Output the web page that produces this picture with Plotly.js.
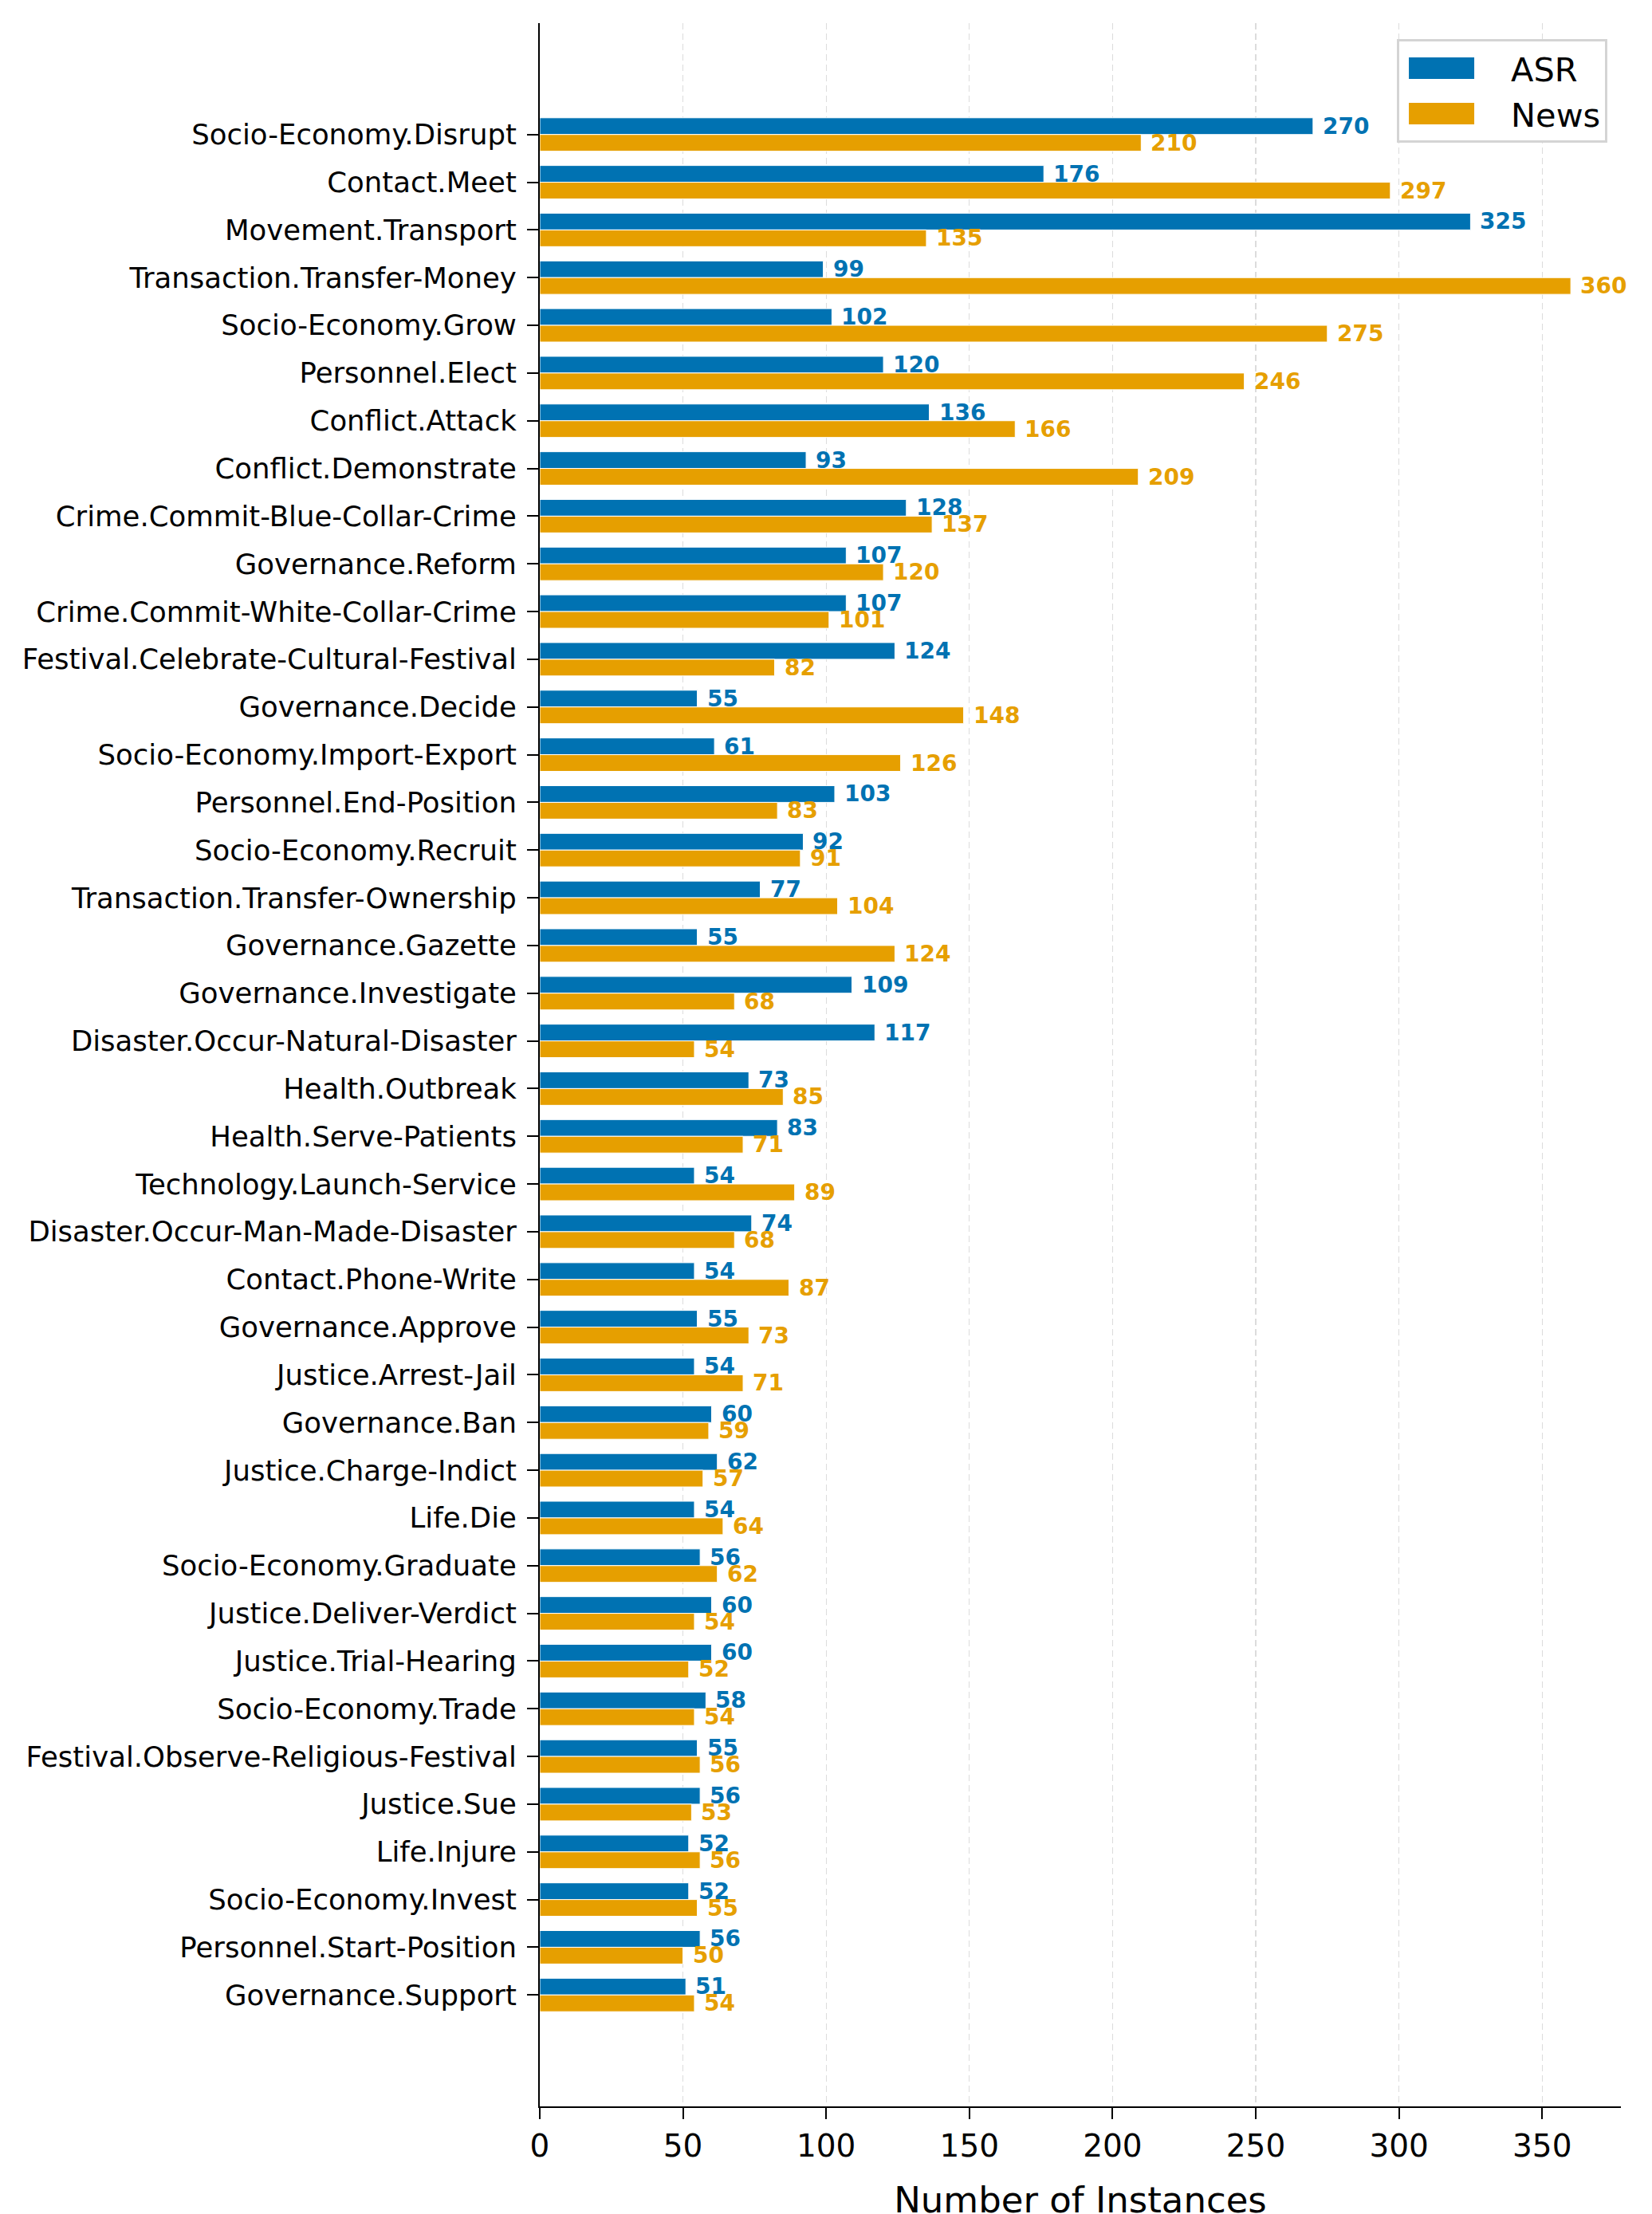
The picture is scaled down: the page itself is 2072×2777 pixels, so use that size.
<!DOCTYPE html>
<html>
<head>
<meta charset="utf-8">
<script src="https://cdn.plot.ly/plotly-3.0.1.min.js"></script>
<style>
  html, body { margin: 0; padding: 0; background: #ffffff; }
  #chart { width: 2072px; height: 2777px; }
</style>
</head>
<body>
<div id="chart"></div>
<script>
const categories = [
  "Socio-Economy.Disrupt", "Contact.Meet", "Movement.Transport", "Transaction.Transfer-Money",
  "Socio-Economy.Grow", "Personnel.Elect", "Conflict.Attack", "Conflict.Demonstrate",
  "Crime.Commit-Blue-Collar-Crime", "Governance.Reform", "Crime.Commit-White-Collar-Crime",
  "Festival.Celebrate-Cultural-Festival", "Governance.Decide", "Socio-Economy.Import-Export",
  "Personnel.End-Position", "Socio-Economy.Recruit", "Transaction.Transfer-Ownership",
  "Governance.Gazette", "Governance.Investigate", "Disaster.Occur-Natural-Disaster",
  "Health.Outbreak", "Health.Serve-Patients", "Technology.Launch-Service",
  "Disaster.Occur-Man-Made-Disaster", "Contact.Phone-Write", "Governance.Approve",
  "Justice.Arrest-Jail", "Governance.Ban", "Justice.Charge-Indict", "Life.Die",
  "Socio-Economy.Graduate", "Justice.Deliver-Verdict", "Justice.Trial-Hearing",
  "Socio-Economy.Trade", "Festival.Observe-Religious-Festival", "Justice.Sue",
  "Life.Injure", "Socio-Economy.Invest", "Personnel.Start-Position", "Governance.Support"
];
const asrCounts = [
  270, 176, 325, 99, 102, 120, 136, 93, 128, 107, 107, 124, 55, 61, 103, 92, 77, 55, 109, 117,
  73, 83, 54, 74, 54, 55, 54, 60, 62, 54, 56, 60, 60, 58, 55, 56, 52, 52, 56, 51
];
const newsCounts = [
  210, 297, 135, 360, 275, 246, 166, 209, 137, 120, 101, 82, 148, 126, 83, 91, 104, 124, 68, 54,
  85, 71, 89, 68, 87, 73, 71, 59, 57, 64, 62, 54, 52, 54, 56, 53, 56, 55, 50, 54
];
const seriesNames = ["ASR", "News"];
const seriesColors = ["#0072B2", "#E69F00"];
const xTickValues = [0, 50, 100, 150, 200, 250, 300, 350];
const xAxisTitle = "Number of Instances";

const FONT = "DejaVu Sans, Verdana, sans-serif";
const BAR_W = 0.35;
const PX_PER_CAT = 59.83;

const seriesData = [asrCounts, newsCounts];

const traces = seriesData.map((vals, k) => ({
  type: "bar",
  orientation: "h",
  name: seriesNames[k],
  legendgroup: seriesNames[k],
  x: vals,
  y: categories,
  marker: { color: seriesColors[k], line: { color: "#ffffff", width: 1 } },
  hoverinfo: "x+name"
}));

// value labels at bar ends
const annotations = [];
seriesData.forEach((vals, k) => {
  const offset = (k === 0 ? -1 : 1) * (BAR_W / 2) * PX_PER_CAT;
  vals.forEach((v, i) => {
    annotations.push({
      x: v, y: categories[i], xref: "x", yref: "y",
      text: String(v), showarrow: false,
      xanchor: "left", yanchor: "middle",
      xshift: 10, yshift: -offset,
      font: { family: FONT, size: 28, color: seriesColors[k], weight: "bold" }
    });
  });
});

const layout = {
  width: 2072, height: 2777,
  margin: { l: 677, r: 39, t: 29, b: 135, pad: 0 },
  paper_bgcolor: "#ffffff", plot_bgcolor: "#ffffff",
  font: { family: FONT, color: "#000000" },
  barmode: "group", bargap: 0.3, bargroupgap: 0,
  showlegend: true,
  legend: {
    x: 0.9875, xanchor: "right", y: 0.9923, yanchor: "top",
    bgcolor: "#ffffff", bordercolor: "#d4d4d4", borderwidth: 3,
    font: { family: FONT, size: 41.5, color: "#000000" },
    traceorder: "normal", itemwidth: 130, tracegroupgap: 12
  },
  xaxis: {
    range: [0, 377.5], tickmode: "array", tickvals: xTickValues,
    ticks: "outside", ticklen: 14, tickwidth: 2, tickcolor: "#000000",
    tickfont: { family: FONT, size: 39, color: "#000000" },
    showline: true, linecolor: "#000000", linewidth: 2,
    showgrid: true, gridcolor: "#dcdcdc", gridwidth: 1.3, griddash: "8px,5px",
    zeroline: false, automargin: false,
    title: { text: xAxisTitle, font: { family: FONT, size: 45, color: "#000000" }, standoff: 40 }
  },
  yaxis: {
    type: "category", range: [41.335, -2.335],
    categoryorder: "array", categoryarray: categories,
    ticks: "outside", ticklen: 14, tickwidth: 2, tickcolor: "#000000",
    ticklabelstandoff: 6,
    tickfont: { family: FONT, size: 35.5, color: "#000000" },
    showline: true, linecolor: "#000000", linewidth: 2,
    showgrid: false, zeroline: false, automargin: false
  },
  annotations: annotations
};

function finishStyling(gd) {
  // wide legend swatches like the reference
  gd.querySelectorAll(".legend .legendpoints path").forEach(p => {
    p.setAttribute("d", "M94,13.5H12V-13.5H94Z");
    p.removeAttribute("transform");
    p.style.strokeWidth = "0px";
  });
  // the reference's axis title sits a little lower, partly past the page edge
  const t = gd.querySelector(".g-xtitle text");
  if (t && !t.dataset.shifted) {
    t.setAttribute("y", String(parseFloat(t.getAttribute("y")) + 9));
    t.dataset.shifted = "1";
  }
}

Plotly.newPlot("chart", traces, layout, { staticPlot: true, displayModeBar: false }).then(gd => {
  finishStyling(gd);
  gd.on("plotly_afterplot", () => finishStyling(gd));
});
</script>
</body>
</html>
